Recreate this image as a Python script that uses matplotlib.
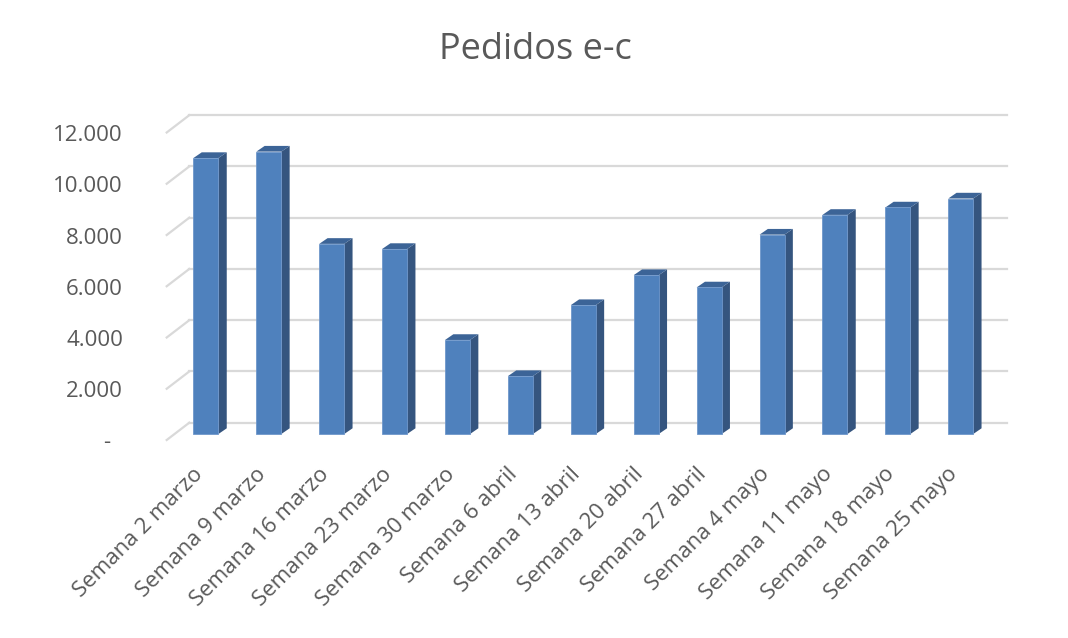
import matplotlib
matplotlib.use("Agg")
import matplotlib.pyplot as plt
from matplotlib.patches import Polygon

plt.rcParams['font.family'] = ['Open Sans', 'DejaVu Sans']

# data
semanas = ["Semana 2 marzo", "Semana 9 marzo", "Semana 16 marzo", "Semana 23 marzo",
           "Semana 30 marzo", "Semana 6 abril", "Semana 13 abril", "Semana 20 abril",
           "Semana 27 abril", "Semana 4 mayo", "Semana 11 mayo", "Semana 18 mayo",
           "Semana 25 mayo"]
pedidos = [10770, 11020, 7420, 7220, 3670, 2260, 5030, 6200, 5720, 7780, 8550, 8840, 9190]
yticks = [0, 2000, 4000, 6000, 8000, 10000, 12000]

FRONT = '#4F81BD'
SIDE = '#35557F'
TOP = '#3C6497'
GRID = '#D9D9D9'
TXT = '#595959'

W, H = 1068, 638
fig = plt.figure(figsize=(W / 100, H / 100), dpi=100)
ax = fig.add_axes([174.5 / W, 1 - 434 / H, 817.7 / W, 307.5 / H])
xmin, xmax = -0.5, len(semanas) - 0.5
ymin, ymax = 0, 12000
ax.set_xlim(xmin, xmax)
ax.set_ylim(ymin, ymax)
ax.axis('off')

# pixel -> data unit factors
xpp = (xmax - xmin) / 817.7
ypp = (ymax - ymin) / 307.5

# fake 3d: back wall / front edge offsets (px)
back_dx, back_dy = 14.8, 11.3
front_dx, front_dy = -7.8, -6.0
depth_dx, depth_dy = 8.3, 5.7

for v in yticks:
    ax.plot([xmin + back_dx * xpp, xmax + back_dx * xpp],
            [v + back_dy * ypp] * 2, color=GRID, lw=1.6, zorder=1, clip_on=False)
    ax.plot([xmin + front_dx * xpp, xmin + back_dx * xpp],
            [v + front_dy * ypp, v + back_dy * ypp], color=GRID, lw=1.6,
            zorder=1, clip_on=False)
    lab = f"{v:,.0f}".replace(",", ".") if v else "-  "
    ax.text(123 / W, 1 - (440 - v / ypp + 3) / H, lab, transform=fig.transFigure,
            ha='right', va='center', fontsize=16, color=TXT)

bw = 25 * xpp
dx, dy = depth_dx * xpp, depth_dy * ypp
xs = list(range(len(semanas)))
ax.bar(xs, pedidos, width=bw, color=FRONT, edgecolor='#6F97CB', linewidth=0.6,
       zorder=3, clip_on=False)
for x, v in zip(xs, pedidos):
    r, l = x + bw / 2, x - bw / 2
    ax.add_patch(Polygon([(r, 0), (r + dx, dy), (r + dx, v + dy), (r, v)],
                         closed=True, facecolor=SIDE, edgecolor='none', zorder=2,
                         clip_on=False))
    ax.add_patch(Polygon([(l, v), (r, v), (r + dx, v + dy), (l + dx, v + dy)],
                         closed=True, facecolor=TOP, edgecolor='none', zorder=2,
                         clip_on=False))
    ax.text(x - 6 * xpp, -37 * ypp, semanas[x], rotation=45, rotation_mode='anchor',
            ha='right', va='center', fontsize=16, color=TXT, clip_on=False)

fig.text(535 / W, 1 - 59.3 / H, "Pedidos e-c", ha='center', va='baseline',
         fontsize=26, color=TXT)

fig.savefig("out.png", dpi=100, facecolor='white')
